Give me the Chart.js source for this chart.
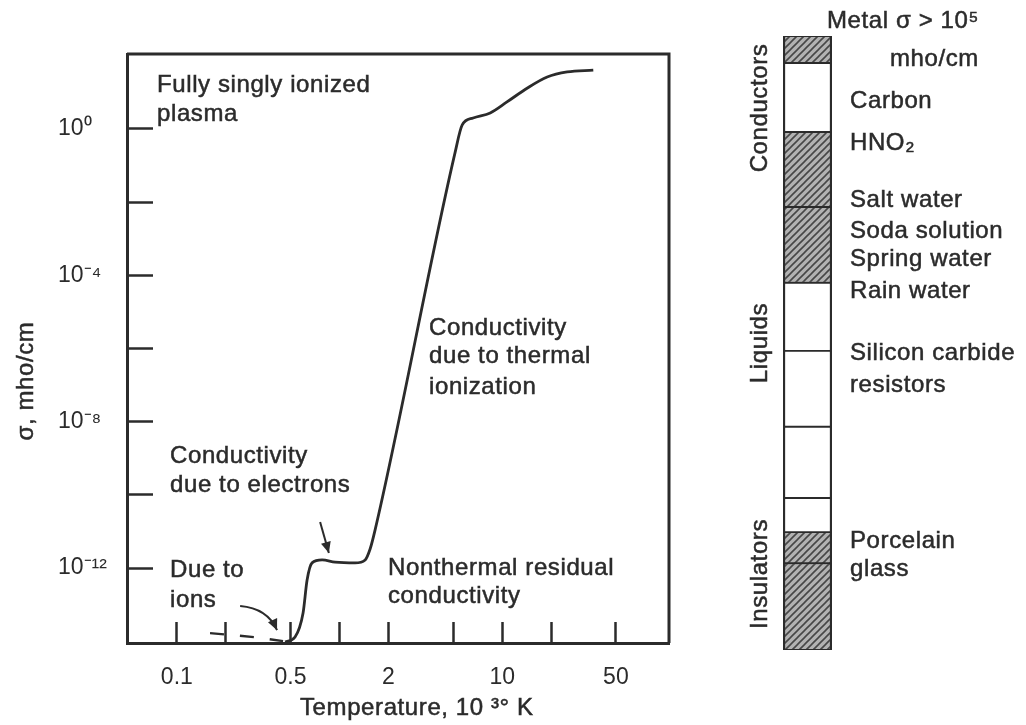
<!DOCTYPE html>
<html>
<head>
<meta charset="utf-8">
<script src="https://cdn.jsdelivr.net/npm/chart.js@4.4.1/dist/chart.umd.min.js"></script>
<style>
  html, body { margin: 0; padding: 0; background: #fff; }
  #wrap { position: relative; width: 1026px; height: 725px; }
  #wrap canvas { position: absolute; left: 0; top: 0; }
</style>
</head>
<body>
<div id="wrap">
  <canvas id="plot" width="1026" height="725"></canvas>
  <canvas id="bands" width="1026" height="725"></canvas>
</div>
<script>
const INK = "#2b2b2b";
const FONT = "Liberation Sans, Arial, sans-serif";

// conductivity curve, temperature in 10^3 K, sigma in mho/cm
const TEMP = [0.463, 0.533, 0.597, 0.632, 0.678, 0.782, 0.939, 1.247, 1.437, 1.542, 1.655, 5.14, 5.68, 6.63, 8.44, 10.7, 14.3, 18.9, 25.1, 36.3];
const SIGMA = [9.5e-15, 1.3e-14, 5.9e-14, 4.7e-13, 1.38e-12, 1.66e-12, 1.45e-12, 1.38e-12, 1.66e-12, 3.3e-12, 1.1e-11, 0.234, 1.29, 2.0, 2.75, 5.5, 13.2, 26.3, 36.3, 40.7];

// ionic part, drawn dashed
const ION_TEMP = [0.16, 0.3, 0.45];
const ION_SIGMA = [1.66e-14, 1.29e-14, 1.0e-14];

const X_TICKS = [0.1, 0.2, 0.5, 1, 2, 5, 10, 20, 50];
const X_LABELS = [0.1, 0.5, 2, 10, 50];
const Y_TICKS = [1, 1e-2, 1e-4, 1e-6, 1e-8, 1e-10, 1e-12];
const Y_LABELS = { "0": "10⁰", "-4": "10⁻⁴", "-8": "10⁻⁸", "-12": "10⁻¹²" };

// material column: band edges as log10(sigma), top to bottom
const BAND_EDGE_LOG = [2.62, 1.88, 0, -2.05, -4.12, -5.98, -8.05, -10.0, -10.93, -11.78, -14.15];
const BAND_HATCHED = [true, false, true, true, false, false, false, false, true, true];

const ARROW_ELECTRONS = { from: [0.76, 1.82e-11], to: [0.86, 2.57e-12] };
const ARROW_IONS = { from: [0.245, 9.1e-14], ctrl: [0.36, 7.9e-14], to: [0.413, 2.0e-14] };

const PLOT_TEXT = [
  ["Fully singly ionized", 157, 92],
  ["plasma", 157, 121],
  ["Conductivity", 170, 463],
  ["due to electrons", 170, 492],
  ["Due to", 170, 577],
  ["ions", 170, 607],
  ["Conductivity", 429, 335],
  ["due to thermal", 429, 363],
  ["ionization", 429, 394],
  ["Nonthermal residual", 388, 575],
  ["conductivity", 388, 603],
  ["Temperature, 10 ³° K", 300, 715],
];

const BAND_TEXT = [
  ["Metal σ > 10⁵", 827, 28],
  ["mho/cm", 890, 66],
  ["Carbon", 850, 108],
  ["HNO₂", 850, 150],
  ["Salt water", 850, 207],
  ["Soda solution", 850, 238],
  ["Spring water", 850, 266],
  ["Rain water", 850, 298],
  ["Silicon carbide", 850, 360],
  ["resistors", 850, 392],
  ["Porcelain", 850, 548],
  ["glass", 850, 576],
];

const BAND_GROUPS = [
  ["Conductors", 767, 108],
  ["Liquids", 767, 343],
  ["Insulators", 767, 574],
];

function setFont(ctx, size) {
  ctx.font = `${size}px ${FONT}`;
  ctx.fillStyle = INK;
  ctx.strokeStyle = INK;
  ctx.lineWidth = 0.5;
  ctx.letterSpacing = "0.6px";
}

function inkText(ctx, t, x, y) {
  ctx.fillText(t, x, y);
  ctx.strokeText(t, x, y);
}

function drawTextList(ctx, list) {
  ctx.save();
  setFont(ctx, 24);
  ctx.textAlign = "left";
  ctx.textBaseline = "alphabetic";
  for (const [t, x, y] of list) inkText(ctx, t, x, y);
  ctx.restore();
}

function drawUpright(ctx, t, x, y) {
  ctx.save();
  setFont(ctx, 24);
  ctx.translate(x, y);
  ctx.rotate(-Math.PI / 2);
  ctx.textAlign = "center";
  ctx.textBaseline = "alphabetic";
  inkText(ctx, t, 0, 0);
  ctx.restore();
}

function arrowHead(ctx, x0, y0, x1, y1) {
  const a = Math.atan2(y1 - y0, x1 - x0);
  const len = 11, w = 5;
  ctx.beginPath();
  ctx.moveTo(x1, y1);
  ctx.lineTo(x1 - len * Math.cos(a) + w * Math.sin(a), y1 - len * Math.sin(a) - w * Math.cos(a));
  ctx.lineTo(x1 - len * Math.cos(a) - w * Math.sin(a), y1 - len * Math.sin(a) + w * Math.cos(a));
  ctx.closePath();
  ctx.fill();
}

const plotDecor = {
  id: "plotDecor",
  afterDraw(chart) {
    const { ctx, chartArea: a, scales } = chart;
    const px = (p) => [scales.x.getPixelForValue(p[0]), scales.y.getPixelForValue(p[1])];

    ctx.save();
    ctx.strokeStyle = INK;
    ctx.lineWidth = 3;
    ctx.beginPath();
    ctx.moveTo(a.left, a.top);
    ctx.lineTo(a.right, a.top);
    ctx.lineTo(a.right, a.bottom);
    ctx.stroke();

    ctx.fillStyle = INK;
    ctx.lineWidth = 2;
    let [x0, y0] = px(ARROW_ELECTRONS.from);
    let [x1, y1] = px(ARROW_ELECTRONS.to);
    ctx.beginPath();
    ctx.moveTo(x0, y0);
    ctx.lineTo(x1, y1);
    ctx.stroke();
    arrowHead(ctx, x0, y0, x1, y1);

    [x0, y0] = px(ARROW_IONS.from);
    const [cx, cy] = px(ARROW_IONS.ctrl);
    [x1, y1] = px(ARROW_IONS.to);
    ctx.beginPath();
    ctx.moveTo(x0, y0);
    ctx.quadraticCurveTo(cx, cy, x1, y1);
    ctx.stroke();
    arrowHead(ctx, cx, cy, x1, y1);
    ctx.restore();

    drawTextList(ctx, PLOT_TEXT);
    drawUpright(ctx, "σ, mho/cm", 33, 381);
  },
};

new Chart(document.getElementById("plot"), {
  type: "line",
  data: {
    datasets: [
      {
        data: TEMP.map((t, i) => ({ x: t, y: SIGMA[i] })),
        borderColor: INK,
        borderWidth: 2.8,
        pointRadius: 0,
        cubicInterpolationMode: "monotone",
        fill: false,
      },
      {
        data: ION_TEMP.map((t, i) => ({ x: t, y: ION_SIGMA[i] })),
        borderColor: INK,
        borderWidth: 2.4,
        borderDash: [14, 16],
        pointRadius: 0,
        fill: false,
      },
    ],
  },
  options: {
    responsive: false,
    devicePixelRatio: 1,
    animation: false,
    layout: { autoPadding: false, padding: { left: 58, right: 357, top: 54, bottom: 0 } },
    plugins: { legend: { display: false }, tooltip: { enabled: false } },
    scales: {
      x: {
        type: "logarithmic",
        min: 0.0494,
        max: 106,
        afterBuildTicks: (s) => { s.ticks = X_TICKS.map((v) => ({ value: v })); },
        afterFit: (s) => { s.height = 82; },
        grid: { drawOnChartArea: false, tickLength: -21, tickWidth: 2.5, tickColor: INK },
        border: { width: 3, color: INK },
        ticks: {
          autoSkip: false,
          maxRotation: 0,
          padding: 42,
          color: INK,
          font: { family: FONT, size: 23 },
          callback: (v) => (X_LABELS.includes(v) ? String(v) : ""),
        },
      },
      y: {
        type: "logarithmic",
        min: Math.pow(10, -14.05),
        max: Math.pow(10, 2.05),
        afterBuildTicks: (s) => { s.ticks = Y_TICKS.map((v) => ({ value: v })); },
        afterFit: (s) => { s.width = 69; },
        grid: { drawOnChartArea: false, tickLength: -26, tickWidth: 2.5, tickColor: INK },
        border: { width: 3, color: INK },
        ticks: {
          crossAlign: "far",
          color: INK,
          font: { family: FONT, size: 23 },
          callback: (v) => Y_LABELS[String(Math.round(Math.log10(v)))] || "",
        },
      },
    },
  },
  plugins: [plotDecor],
});

function hatchPattern(ctx) {
  const c = document.createElement("canvas");
  c.width = 7;
  c.height = 7;
  const g = c.getContext("2d");
  g.fillStyle = "#b2b2b2";
  g.fillRect(0, 0, 7, 7);
  g.strokeStyle = "#474747";
  g.lineWidth = 1.6;
  g.beginPath();
  g.moveTo(-1, 8);
  g.lineTo(8, -1);
  g.moveTo(-1, 1);
  g.lineTo(1, -1);
  g.moveTo(6, 8);
  g.lineTo(8, 6);
  g.stroke();
  return ctx.createPattern(c, "repeat");
}

const bandCanvas = document.getElementById("bands");
const hatch = hatchPattern(bandCanvas.getContext("2d"));

const bandDecor = {
  id: "bandDecor",
  afterDraw(chart) {
    const { ctx } = chart;
    drawTextList(ctx, BAND_TEXT);
    for (const [t, x, y] of BAND_GROUPS) drawUpright(ctx, t, x, y);
  },
};

const bandSets = BAND_HATCHED.map((h, i) => ({
  data: [[Math.pow(10, BAND_EDGE_LOG[i + 1]), Math.pow(10, BAND_EDGE_LOG[i])]],
  backgroundColor: h ? hatch : "#ffffff",
  borderColor: INK,
  borderWidth: { left: 2.5, right: 2.5, top: 1.3, bottom: 1.3 },
  borderSkipped: false,
  barPercentage: 1,
  categoryPercentage: 1,
}));

new Chart(bandCanvas, {
  type: "bar",
  data: { labels: ["σ"], datasets: bandSets },
  options: {
    responsive: false,
    devicePixelRatio: 1,
    animation: false,
    layout: { autoPadding: false, padding: { left: 783, right: 194, top: 36, bottom: 75 } },
    plugins: { legend: { display: false }, tooltip: { enabled: false } },
    scales: {
      x: { display: false, stacked: true },
      y: {
        type: "logarithmic",
        display: false,
        stacked: false,
        min: Math.pow(10, -14.15),
        max: Math.pow(10, 2.62),
      },
    },
  },
  plugins: [bandDecor],
});
</script>
</body>
</html>
